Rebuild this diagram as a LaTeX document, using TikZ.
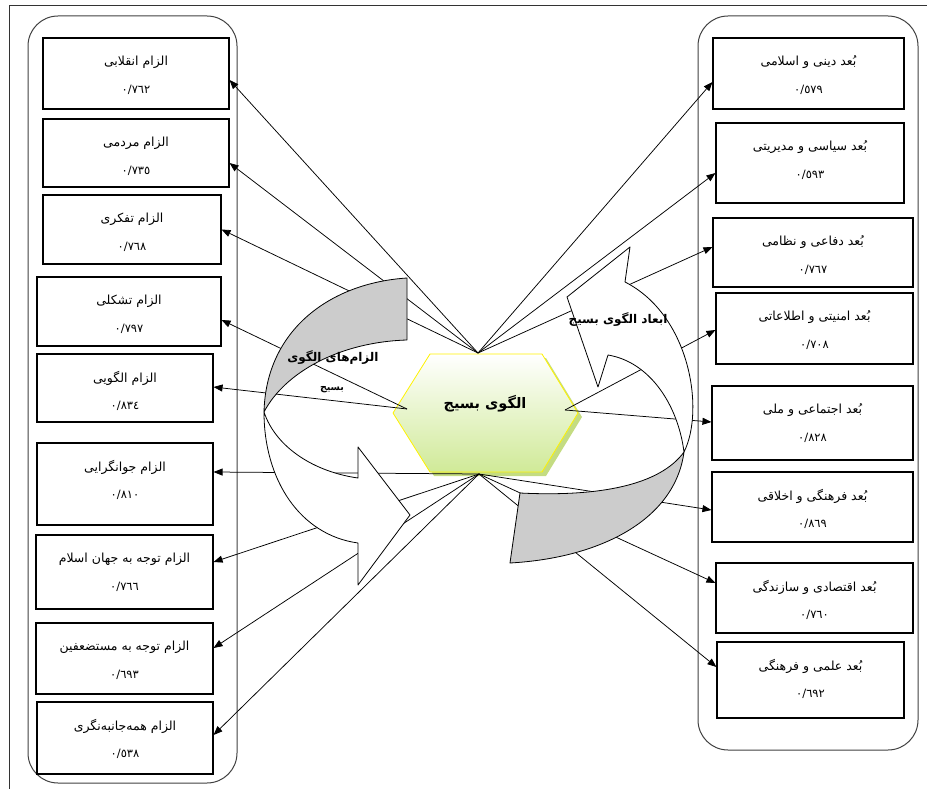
\documentclass[tikz,border=0pt]{standalone}
\usepackage{fontspec}
\usetikzlibrary{arrows.meta,calc}
\TeXXeTstate=1
\newfontfamily\arabicfont[Script=Arabic]{DejaVu Sans}
\definecolor{hexgreen}{RGB}{208,234,152}
\definecolor{hexshadow}{RGB}{196,220,130}
\definecolor{bandgray}{RGB}{204,204,204}
\tikzset{
  frameline/.style={line width=0.9pt, draw=black!80},
  container/.style={draw=black!75, line width=1pt, rounded corners=30pt, inner sep=0pt},
  box/.style={draw, line width=1.1pt, inner sep=0pt},
  txt/.style={font=\arabicfont\fontsize{12.5}{14}\selectfont, inner sep=0pt},
  num/.style={font=\arabicfont\fontsize{11.5}{13}\selectfont, inner sep=0pt},
  lbl/.style={font=\arabicfont\bfseries\fontsize{12}{14}\selectfont, inner sep=0pt},
  conn/.style={line width=0.75pt, -{Triangle[length=9pt,width=7pt]}},
  band/.style={draw, line width=0.8pt, line join=round},
}
% name, center x, top y, width, height, text, number
\newcommand{\pbox}[7]{%
  \node[box, minimum width=#4, minimum height=#5] (#1) at (#2,#3+#5/2) {};
  \node[txt] (#1t) at (#2,#3+24) {#6};
  \node[num] (#1n) at (#2,#3+52) {#7};
}
\begin{document}
\begin{tikzpicture}[x=1pt,y=-1pt]
\useasboundingbox (0,0) rectangle (927,789);
\draw[frameline] (9,789) -- (9,5) -- (927,5);

% containers
\node[container, minimum width=209, minimum height=767] (Lgrp) at (132.5,399.5) {};
\node[container, minimum width=220, minimum height=734] (Rgrp) at (808,383) {};

% left boxes
\pbox{L1}{136}{38}{186}{71}{\beginR الزام انقلابی\endR}{٠/٧٦٢}
\pbox{L2}{136}{119}{186}{68}{\beginR الزام مردمی\endR}{٠/٧٣٥}
\pbox{L3}{132}{195}{178}{69}{\beginR الزام تفکری\endR}{٠/٧٦٨}
\pbox{L4}{129}{277}{184}{69}{\beginR الزام تشکلی\endR}{٠/٧٩٧}
\pbox{L5}{125}{354}{176}{68}{\beginR الزام الگویی\endR}{٠/٨٣٤}
\pbox{L6}{125}{443}{176}{82}{\beginR الزام جوانگرایی\endR}{٠/٨١٠}
\pbox{L7}{124.5}{535}{177}{74}{\beginR الزام توجه به جهان اسلام\endR}{٠/٧٦٦}
\pbox{L8}{124.5}{623}{177}{71}{\beginR الزام توجه به مستضعفین\endR}{٠/٦٩٣}
\pbox{L9}{125}{702}{176}{72}{\beginR الزام همه‌جانبه‌نگری\endR}{٠/٥٣٨}

% right boxes
\pbox{R1}{808.5}{38}{191}{71}{\beginR بُعد دینی و اسلامی\endR}{٠/٥٧٩}
\pbox{R2}{810}{123}{188}{80}{\beginR بُعد سیاسی و مدیریتی\endR}{٠/٥٩٣}
\pbox{R3}{813}{218}{200}{69}{\beginR بُعد دفاعی و نظامی\endR}{٠/٧٦٧}
\pbox{R4}{814.5}{293}{197}{71}{\beginR بُعد امنیتی و اطلاعاتی\endR}{٠/٧٠٨}
\pbox{R5}{812.5}{386}{201}{74}{\beginR بُعد اجتماعی و ملی\endR}{٠/٨٢٨}
\pbox{R6}{812.5}{472}{201}{70}{\beginR بُعد فرهنگی و اخلاقی\endR}{٠/٨٦٩}
\pbox{R7}{814.5}{563}{197}{70}{\beginR بُعد اقتصادی و سازندگی\endR}{٠/٧٦٠}
\pbox{R8}{810.5}{642}{187}{76}{\beginR بُعد علمی و فرهنگی\endR}{٠/٦٩٢}

% hexagon
\fill[hexshadow] (397,417) -- (434,358) -- (546,358) -- (582,417) -- (546,476) -- (434,476) -- cycle;
\draw[yellow, line width=0.8pt, top color=white, bottom color=hexgreen]
  (393,413) -- (430,354) -- (542,354) -- (578,413) -- (542,472) -- (430,472) -- cycle;
\node[font=\arabicfont\bfseries\fontsize{14.5}{16}\selectfont, inner sep=0pt] (hex) at (485,404) {\beginR الگوی بسیج\endR};

% hubs
\coordinate (hubT) at (478,353);
\coordinate (hubB) at (479,474);
\coordinate (hubL) at (407,409);
\coordinate (hubR) at (565,410);

% connectors
\draw[conn] (hubT) -- ([yshift=-6.5pt]L1.east);
\draw[conn] (hubT) -- ([yshift=-10pt]L2.east);
\draw[conn] (hubT) -- (L3.east);
\draw[conn] (hubL) -- ([yshift=-8.5pt]L4.east);
\draw[conn] (hubL) -- ([yshift=1pt]L5.east);
\draw[conn] (hubB) -- ([yshift=12pt]L6.east);
\draw[conn] (hubB) -- ([yshift=10pt]L7.east);
\draw[conn] (hubB) -- ([yshift=10.5pt]L8.east);
\draw[conn] (hubB) -- ([yshift=3pt]L9.east);
\draw[conn] (hubT) -- ([yshift=-8.5pt]R1.west);
\draw[conn] (hubT) -- ([yshift=-10pt]R2.west);
\draw[conn] (hubT) -- ([yshift=5.5pt]R3.west);
\draw[conn] (hubR) -- ([yshift=-1.5pt]R4.west);
\draw[conn] (hubR) -- ([yshift=1pt]R5.west);
\draw[conn] (hubB) -- ([yshift=-3pt]R6.west);
\draw[conn] (hubB) -- ([yshift=15pt]R7.west);
\draw[conn] (hubB) -- ([yshift=13pt]R8.west);

% left curved arrow
\draw[band, fill=bandgray] (407,278) .. controls (330,283) and (266,330) .. (264,412)
  .. controls (285,372) and (340,342) .. (407,340) -- cycle;
\draw[band, fill=white] (264,412) .. controls (264,480) and (300,535) .. (358,543)
  -- (358,585) -- (410,515) -- (358,447) -- (358,478)
  .. controls (315,472) and (276,448) .. (264,412) -- cycle;

% right curved arrow
\draw[band, fill=bandgray] (520,493) .. controls (600,497) and (660,485) .. (684,452)
  .. controls (675,520) and (600,558) .. (510,563) -- cycle;
\draw[band, fill=white] (684,452) .. controls (705,410) and (690,315) .. (625,282)
  -- (630,247) -- (567,297) -- (598,387) -- (608,355)
  .. controls (650,362) and (678,405) .. (684,452) -- cycle;

% arrow labels
\node[lbl] (lblL1) at (333,358) {\beginR الزام‌های الگوی\endR};
\node[font=\arabicfont\bfseries\fontsize{9.5}{12}\selectfont, inner sep=0pt] (lblL2) at (332,390) {\beginR بسیج\endR};
\node[lbl] (lblR) at (618,320) {\beginR ابعاد الگوی بسیج\endR};
\end{tikzpicture}
\end{document}
